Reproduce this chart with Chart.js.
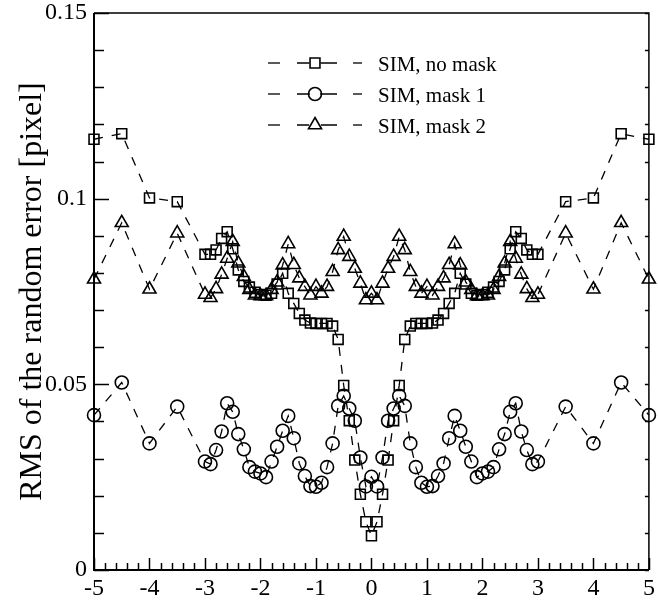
<!DOCTYPE html>
<html>
<head>
<meta charset="utf-8">
<script src="https://cdn.jsdelivr.net/npm/chart.js@4/dist/chart.umd.min.js"></script>
<style>
  html, body { margin: 0; padding: 0; background: #fff; }
  #wrap { width: 658px; height: 606px; position: relative; }
</style>
</head>
<body>
<div id="wrap"><canvas id="c" width="658" height="606"></canvas></div>
<script>
// ---- data ----
const xValues = [-5, -4.5, -4, -3.5,
  -3, -2.9, -2.8, -2.7, -2.6, -2.5, -2.4, -2.3, -2.2, -2.1,
  -2, -1.9, -1.8, -1.7, -1.6, -1.5, -1.4, -1.3, -1.2, -1.1,
  -1, -0.9, -0.8, -0.7, -0.6, -0.5, -0.4, -0.3, -0.2, -0.1,
  0,
  0.1, 0.2, 0.3, 0.4, 0.5, 0.6, 0.7, 0.8, 0.9, 1,
  1.1, 1.2, 1.3, 1.4, 1.5, 1.6, 1.7, 1.8, 1.9, 2,
  2.1, 2.2, 2.3, 2.4, 2.5, 2.6, 2.7, 2.8, 2.9, 3,
  3.5, 4, 4.5, 5];

const simNoMask = [0.1160, 0.1175, 0.1002, 0.0992,
  0.0850, 0.0850, 0.0862, 0.0893, 0.0911, 0.0865, 0.0808, 0.0777, 0.0762, 0.0748,
  0.0742, 0.0740, 0.0745, 0.0770, 0.0799, 0.0745, 0.0718, 0.0691, 0.0673, 0.0665,
  0.0664, 0.0664, 0.0664, 0.0657, 0.0621, 0.0497, 0.0402, 0.0296, 0.0204, 0.0130,
  0.0092,
  0.0130, 0.0204, 0.0296, 0.0402, 0.0497, 0.0621, 0.0657, 0.0664, 0.0664, 0.0664,
  0.0665, 0.0673, 0.0691, 0.0718, 0.0745, 0.0799, 0.0770, 0.0745, 0.0740, 0.0742,
  0.0748, 0.0762, 0.0777, 0.0808, 0.0865, 0.0911, 0.0893, 0.0862, 0.0850, 0.0850,
  0.0992, 0.1002, 0.1175, 0.1160];

const simMask1 = [0.0417, 0.0505, 0.0341, 0.0440,
  0.0292, 0.0285, 0.0323, 0.0373, 0.0449, 0.0426, 0.0366, 0.0325, 0.0277, 0.0265,
  0.0260, 0.0250, 0.0292, 0.0332, 0.0375, 0.0415, 0.0355, 0.0287, 0.0253, 0.0226,
  0.0224, 0.0235, 0.0277, 0.0341, 0.0442, 0.0469, 0.0435, 0.0402, 0.0303, 0.0225,
  0.0251,
  0.0225, 0.0303, 0.0402, 0.0435, 0.0469, 0.0442, 0.0341, 0.0277, 0.0235, 0.0224,
  0.0226, 0.0253, 0.0287, 0.0355, 0.0415, 0.0375, 0.0332, 0.0292, 0.0250, 0.0260,
  0.0265, 0.0277, 0.0325, 0.0366, 0.0426, 0.0449, 0.0373, 0.0323, 0.0285, 0.0292,
  0.0440, 0.0341, 0.0505, 0.0417];

const simMask2 = [0.0783, 0.0935, 0.0756, 0.0907,
  0.0742, 0.0733, 0.0757, 0.0796, 0.0839, 0.0884, 0.0826, 0.0790, 0.0755, 0.0740,
  0.0738, 0.0738, 0.0755, 0.0775, 0.0821, 0.0878, 0.0822, 0.0786, 0.0763, 0.0740,
  0.0763, 0.0745, 0.0763, 0.0803, 0.0862, 0.0898, 0.0844, 0.0812, 0.0772, 0.0727,
  0.0745,
  0.0727, 0.0772, 0.0812, 0.0844, 0.0898, 0.0862, 0.0803, 0.0763, 0.0745, 0.0763,
  0.0740, 0.0763, 0.0786, 0.0822, 0.0878, 0.0821, 0.0775, 0.0755, 0.0738, 0.0738,
  0.0740, 0.0755, 0.0790, 0.0826, 0.0884, 0.0839, 0.0796, 0.0757, 0.0733, 0.0742,
  0.0907, 0.0756, 0.0935, 0.0783];

const seriesNames = ['SIM, no mask', 'SIM, mask 1', 'SIM, mask 2'];
const xMin = -5, xMax = 5, xStep = 1;
const yMin = 0, yMax = 0.15, yStep = 0.05;
const yAxisTitle = 'RMS of the random error [pixel]';

// ---- chart ----
const FONT = "'Liberation Serif', 'Times New Roman', serif";
const toPts = (ys) => xValues.map((x, i) => ({ x: x, y: ys[i] }));

function dsStyle(pointStyle, radius) {
  return {
    borderColor: '#000', backgroundColor: 'rgba(0,0,0,0)',
    borderWidth: 1.3, borderDash: [9, 9],
    pointStyle: pointStyle, pointRadius: radius, pointHoverRadius: radius,
    pointBorderColor: '#000', pointBackgroundColor: 'rgba(0,0,0,0)',
    pointBorderWidth: 1.6, tension: 0, clip: false, fill: false
  };
}

const frameTicks = {
  id: 'frameTicks',
  afterDatasetsDraw(chart) {
    const ctx = chart.ctx, a = chart.chartArea;
    const xs = chart.scales.x, ys = chart.scales.y;
    ctx.save();
    ctx.strokeStyle = '#000';
    ctx.lineWidth = 2;
    ctx.beginPath();
    ctx.moveTo(a.left, a.top); ctx.lineTo(a.left, a.bottom); ctx.lineTo(a.right, a.bottom);
    ctx.stroke();
    ctx.lineWidth = 1.5;
    ctx.beginPath();
    ctx.moveTo(a.left, a.top); ctx.lineTo(a.right, a.top); ctx.lineTo(a.right, a.bottom);
    ctx.stroke();
    ctx.lineWidth = 1.5;
    for (let k = 0; k <= 15; k++) {
      const py = Math.round(ys.getPixelForValue(k / 100)) + 0.5;
      const len = (k % 5 === 0) ? 15 : 10;
      ctx.beginPath(); ctx.moveTo(a.left, py); ctx.lineTo(a.left + len, py); ctx.stroke();
      ctx.beginPath(); ctx.moveTo(a.right, py); ctx.lineTo(a.right - 4, py); ctx.stroke();
    }
    for (let k = -25; k <= 25; k++) {
      const px = Math.round(xs.getPixelForValue(k / 5)) + 0.5;
      const len = (k % 5 === 0) ? 12 : 7;
      ctx.beginPath(); ctx.moveTo(px, a.bottom); ctx.lineTo(px, a.bottom - len); ctx.stroke();
    }
    ctx.restore();
  }
};

function drawMarker(ctx, style, x, y, r) {
  ctx.beginPath();
  if (style === 'rect') {
    const s = r * Math.SQRT1_2;
    ctx.rect(x - s, y - s, 2 * s, 2 * s);
  } else if (style === 'circle') {
    ctx.arc(x, y, r, 0, Math.PI * 2);
  } else if (style === 'triangle') {
    ctx.moveTo(x, y - r);
    ctx.lineTo(x + r * Math.sin(Math.PI * 2 / 3), y - r * Math.cos(Math.PI * 2 / 3));
    ctx.lineTo(x + r * Math.sin(Math.PI * 4 / 3), y - r * Math.cos(Math.PI * 4 / 3));
    ctx.closePath();
  }
  ctx.stroke();
}

const customLegend = {
  id: 'customLegend',
  afterDraw(chart) {
    const ctx = chart.ctx;
    const rows = [63, 94, 125];
    ctx.save();
    ctx.strokeStyle = '#000'; ctx.fillStyle = '#000';
    chart.data.datasets.forEach((ds, i) => {
      const y = rows[i];
      ctx.lineWidth = 1.3;
      const segs = [[268, 280], [297, 337], [353, 362]];
      segs.forEach(s => { ctx.beginPath(); ctx.moveTo(s[0], y); ctx.lineTo(s[1], y); ctx.stroke(); });
      ctx.fillStyle = '#fff';
      ctx.beginPath(); ctx.arc(315, y, ds.pointRadius * 0.8, 0, Math.PI * 2); ctx.fill();
      ctx.fillStyle = '#000';
      ctx.lineWidth = 1.6;
      drawMarker(ctx, ds.pointStyle, 315, y, ds.pointRadius);
      ctx.font = '21px ' + FONT;
      ctx.textBaseline = 'alphabetic';
      ctx.textAlign = 'left';
      ctx.fillText(ds.label, 378, y + 7.5);
    });
    ctx.restore();
  }
};

new Chart(document.getElementById('c'), {
  type: 'line',
  data: {
    datasets: [
      Object.assign({ label: seriesNames[0], data: toPts(simNoMask) }, dsStyle('rect', 7)),
      Object.assign({ label: seriesNames[1], data: toPts(simMask1) }, dsStyle('circle', 6.5)),
      Object.assign({ label: seriesNames[2], data: toPts(simMask2) }, dsStyle('triangle', 7.5))
    ]
  },
  options: {
    responsive: false,
    animation: false,
    devicePixelRatio: 1,
    layout: { padding: { top: 13, right: 5, left: 0, bottom: 0 } },
    plugins: { legend: { display: false }, tooltip: { enabled: false } },
    scales: {
      x: {
        type: 'linear', min: xMin, max: xMax,
        ticks: { stepSize: xStep, color: '#000', font: { family: FONT, size: 24 }, padding: 4, maxRotation: 0 },
        grid: { drawOnChartArea: false, drawTicks: false },
        border: { display: false },
        afterFit(s) { s.height = 36; s.paddingLeft = 0; s.paddingRight = 0; }
      },
      y: {
        type: 'linear', min: yMin, max: yMax,
        ticks: {
          stepSize: yStep, color: '#000', font: { family: FONT, size: 24 }, padding: 7,
          callback: (v) => String(Number(v.toFixed(4)))
        },
        grid: { drawOnChartArea: false, drawTicks: false },
        border: { display: false },
        title: { display: true, text: yAxisTitle, color: '#000', font: { family: FONT, size: 32 }, padding: { top: 13, bottom: 0 } },
        afterFit(s) { s.width = 94; s.paddingTop = 0; s.paddingBottom = 0; }
      }
    }
  },
  plugins: [frameTicks, customLegend]
});
</script>
</body>
</html>
